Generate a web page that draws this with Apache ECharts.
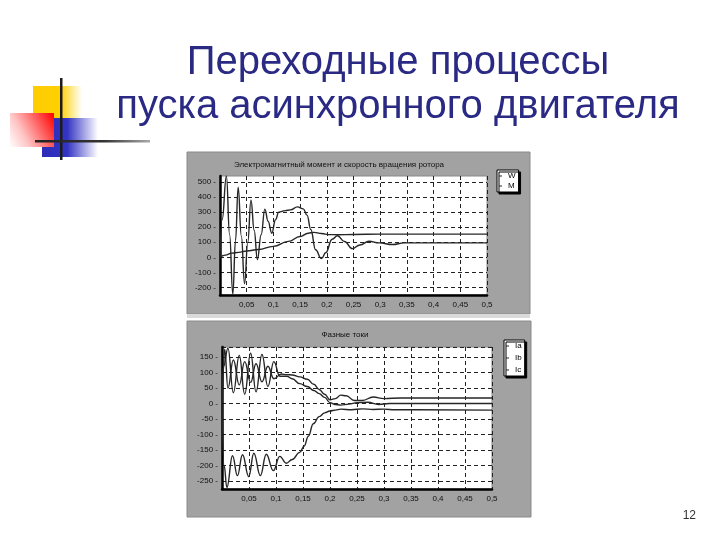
<!DOCTYPE html>
<html><head><meta charset="utf-8">
<script src="https://cdn.jsdelivr.net/npm/echarts@6/dist/echarts.min.js"></script>
<style>html,body{margin:0;padding:0;background:#fff}#c{width:720px;height:540px}</style>
</head><body><div id="c"></div>
<script>
const slideTitle1 = 'Переходные процессы';
const slideTitle2 = 'пуска асинхронного двигателя';
const chart1Title = 'Электромагнитный момент и скорость вращения ротора';
const chart2Title = 'Фазные токи';
const pageNumber = '12';

const yLabelsTop = [500, 400, 300, 200, 100, 0, -100, -200];
const yLabelsBottom = [150, 100, 50, 0, -50, -100, -150, -200, -250];

// Speed W
const tW = [0, 0.01, 0.022, 0.035, 0.05, 0.072, 0.1, 0.128, 0.15, 0.165, 0.176, 0.19, 0.205, 0.22, 0.25, 0.3, 0.5];
const vW = [0, 15, 28, 33, 42, 52, 73, 106, 138, 160, 166, 158, 151, 150, 152, 154, 154];
// Torque M
const tM = [0, 0.004, 0.012, 0.018, 0.024, 0.029, 0.034, 0.040, 0.046, 0.052, 0.058, 0.064, 0.070, 0.077, 0.084, 0.090, 0.097, 0.104, 0.11, 0.122, 0.132, 0.145, 0.156, 0.163, 0.17, 0.179, 0.19, 0.198, 0.21, 0.22, 0.233, 0.248, 0.262, 0.279, 0.298, 0.323, 0.345, 0.5];
const vM = [0, 250, 540, 150, -245, 110, 465, 140, -175, 100, 380, 180, -15, 150, 320, 240, 160, 250, 300, 310, 315, 335, 322, 280, 185, 50, -8, 30, 120, 143, 105, 58, 82, 107, 96, 85, 96, 96];

// Phase currents
const tIa = [0, 0.003, 0.011, 0.021, 0.032, 0.042, 0.053, 0.063, 0.074, 0.085, 0.096, 0.107, 0.12, 0.13, 0.144, 0.158, 0.17, 0.18, 0.19, 0.2, 0.21, 0.22, 0.235, 0.25, 0.27, 0.29, 0.31, 0.5];
const vIa = [0, 120, 178, 35, 155, 30, 162, 38, 158, 55, 135, 88, 88, 80, 64, 55, 42, 32, 20, 3, -3, -5, -2, 3, 4, -3, 0, 0];
const tIb = [0, 0.002, 0.005, 0.011, 0.021, 0.032, 0.042, 0.053, 0.063, 0.074, 0.085, 0.096, 0.11, 0.12, 0.13, 0.144, 0.158, 0.17, 0.18, 0.19, 0.2, 0.21, 0.22, 0.23, 0.245, 0.26, 0.28, 0.3, 0.33, 0.5];
const vIb = [0, 100, 175, 50, 140, 60, 135, 68, 128, 70, 120, 80, 95, 93, 92, 86, 78, 62, 45, 30, 12, 16, 27, 25, 10, 10, 21, 16, 18, 18];
const tIc = [0, 0.004, 0.009, 0.0195, 0.0285, 0.038, 0.0495, 0.059, 0.071, 0.082, 0.095, 0.107, 0.119, 0.13, 0.144, 0.152, 0.16, 0.169, 0.18, 0.19, 0.2, 0.21, 0.22, 0.24, 0.26, 0.28, 0.3, 0.32, 0.5];
const vIc = [0, -200, -270, -168, -232, -165, -235, -160, -232, -163, -216, -170, -192, -180, -157, -137, -105, -65, -42, -30, -24, -21, -18, -20, -17, -19, -18, -20, -21];

const pairs = (t, v) => t.map((x, i) => [x, v[i]]);
const FONT = '"Liberation Sans", Arial, sans-serif';
const lineCol = '#262626';

const chart = echarts.init(document.getElementById('c'), null, {renderer: 'canvas'});
const fmtX = v => v === 0 ? '' : String(+v.toFixed(2)).replace('.', ',');
function xAxis(gi) {
  return {
    gridIndex: gi, type: 'value', min: 0, max: 0.5, interval: 0.05,
    axisLine: {show: true, onZero: false, lineStyle: {color: '#000', width: 2.5}},
    axisTick: {show: false},
    axisLabel: {fontSize: 8, color: '#111', margin: 6, fontFamily: FONT, formatter: fmtX},
    splitLine: {show: true, lineStyle: {color: '#222', type: [4, 3], width: 1}}
  };
}
function yAxis(gi, min, max, step, labels) {
  return {
    gridIndex: gi, type: 'value', min: min, max: max, interval: step,
    axisLine: {show: true, onZero: false, lineStyle: {color: '#000', width: 2.5}},
    axisTick: {show: false},
    axisLabel: {fontSize: 8, color: '#111', margin: 4, fontFamily: FONT,
      formatter: v => labels.indexOf(v) >= 0 ? String(v) + ' -' : ''},
    splitLine: {show: true, lineStyle: {color: ['rgba(0,0,0,0)', '#222'], type: [4, 3], width: 1}}
  };
}
function ser(name, gi, t, v) {
  return {name: name, type: 'line', xAxisIndex: gi, yAxisIndex: gi, data: pairs(t, v),
    showSymbol: false, smooth: 0.45, smoothMonotone: 'x',
    lineStyle: {color: lineCol, width: 1.4}, itemStyle: {color: lineCol}, z: 5};
}
function legend(names, left, top, gap) {
  return {data: names, orient: 'vertical', left: left, top: top, icon: 'rect',
    itemWidth: 3, itemHeight: 1, itemGap: gap, padding: [2, 3, 2, 2],
    backgroundColor: '#fff', borderColor: '#000', borderWidth: 1,
    shadowColor: '#000', shadowOffsetX: 2, shadowOffsetY: 2, shadowBlur: 0,
    selectedMode: false, textStyle: {fontSize: 8, color: '#000', fontFamily: FONT, padding: [0, 0, 0, 1]}};
}
function grad(x, y, x2, y2, stops) {
  return new echarts.graphic.LinearGradient(x, y, x2, y2, stops.map(s => ({offset: s[0], color: s[1]})));
}
function txt(text, x, y, size, color, align) {
  return {type: 'text', x: x, y: y, z: 10, style: {text: text, font: size + 'px ' + FONT, fill: color,
    align: align, textAlign: align, verticalAlign: 'middle', textVerticalAlign: 'middle'}};
}

chart.setOption({
  animation: false,
  backgroundColor: '#fff',
  graphic: [
    // slide decoration
    {type: 'rect', z: -5, shape: {x: 33, y: 86, width: 49, height: 33}, style: {fill: grad(0, 0, 1, 0, [[0, '#ffcc00'], [0.55, '#ffd000'], [1, '#ffffff']])}},
    {type: 'rect', z: -4, shape: {x: 42, y: 118, width: 56, height: 39}, style: {fill: grad(0, 0, 1, 0, [[0, '#2c2cb8'], [0.45, '#3434c4'], [1, '#ffffff']])}},
    {type: 'rect', z: -3, shape: {x: 10, y: 113, width: 44, height: 34}, style: {fill: grad(1, 0.15, 0, 0.85, [[0, '#ff0a0a'], [0.3, '#ff5a5a'], [0.7, '#ffc4c4'], [1, '#fff6f6']])}},
    {type: 'rect', z: -2, shape: {x: 60, y: 78, width: 2.5, height: 82}, style: {fill: '#1c1c1c'}},
    {type: 'rect', z: -2, shape: {x: 35, y: 140, width: 115, height: 2.5}, style: {fill: grad(0, 0, 1, 0, [[0, '#222'], [0.6, '#333'], [1, '#aaa']])}},
    // chart panels
    {type: 'rect', z: -10, shape: {x: 187, y: 152, width: 343, height: 162}, style: {fill: '#a2a2a2', stroke: '#8a8a8a', lineWidth: 1}},
    {type: 'rect', z: -10, shape: {x: 187, y: 314, width: 343, height: 4}, style: {fill: '#dadada'}},
    {type: 'rect', z: -10, shape: {x: 187, y: 321, width: 344, height: 196}, style: {fill: '#a2a2a2', stroke: '#8a8a8a', lineWidth: 1}},
    // texts
    txt(slideTitle1, 398, 63, 40, '#2a2a84', 'center'),
    txt(slideTitle2, 398, 107, 40, '#2a2a84', 'center'),
    txt(chart1Title, 339, 165, 8, '#111', 'center'),
    txt(chart2Title, 345, 335, 8, '#111', 'center'),
    txt(pageNumber, 696, 516, 12, '#333', 'right')
  ],
  grid: [
    {left: 220, right: 233, top: 176, bottom: 245, show: true, backgroundColor: '#fff', borderColor: '#888', borderWidth: 1},
    {left: 222, right: 228, top: 347, bottom: 51, show: true, backgroundColor: '#fff', borderColor: '#888', borderWidth: 1}
  ],
  legend: [legend(['W', 'M'], 497, 170, 2), legend(['Ia', 'Ib', 'Ic'], 504, 340, 4)],
  xAxis: [xAxis(0), xAxis(1)],
  yAxis: [yAxis(0, -250, 540, 50, yLabelsTop), yAxis(1, -275, 182, 25, yLabelsBottom)],
  series: [
    ser('W', 0, tW, vW),
    ser('M', 0, tM, vM),
    ser('Ia', 1, tIa, vIa),
    ser('Ib', 1, tIb, vIb),
    ser('Ic', 1, tIc, vIc)
  ]
});
</script></body></html>
